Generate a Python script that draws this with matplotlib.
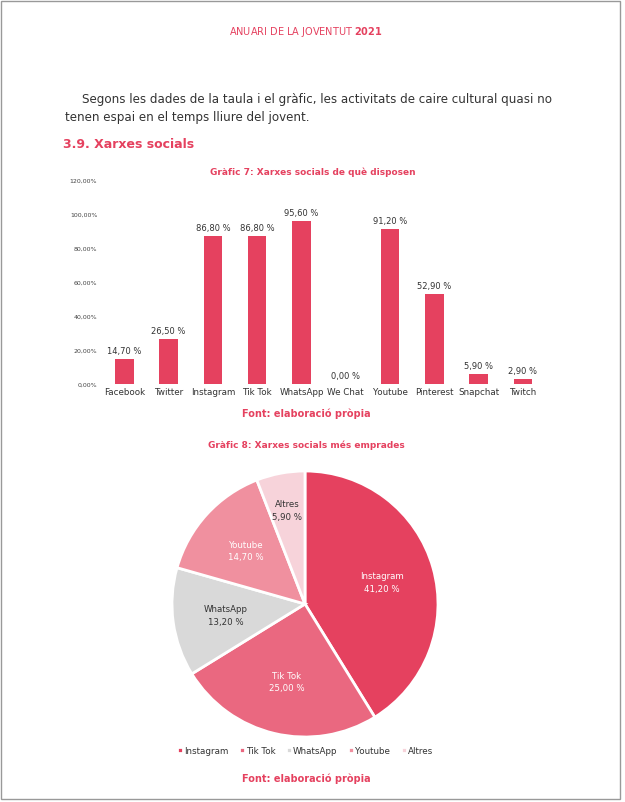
import matplotlib.pyplot as plt
import numpy as np

pink = '#E5415F'

networks = ['Facebook', 'Twitter', 'Instagram', 'Tik Tok', 'WhatsApp', 'We Chat',
            'Youtube', 'Pinterest', 'Snapchat', 'Twitch']
share = [14.7, 26.5, 86.8, 86.8, 95.6, 0.0, 91.2, 52.9, 5.9, 2.9]

pie_labels = ['Instagram', 'Tik Tok', 'WhatsApp', 'Youtube', 'Altres']
pie_values = [41.2, 25.0, 13.2, 14.7, 5.9]
pie_colors = ['#E5415F', '#EA6880', '#D9D9D9', '#F0909F', '#F7D3DA']
pie_text = ['white', 'white', '#333333', 'white', '#333333']

fig = plt.figure(figsize=(6.25, 8.03), dpi=100)

# page text
fig.text(0.49, 1 - 32/803, 'ANUARI DE LA JOVENTUT $\\bf{2021}$', color=pink,
         ha='center', va='center', fontsize=7)
fig.text(82/625, 1 - 100/803, 'Segons les dades de la taula i el gràfic, les activitats de caire cultural quasi no',
         ha='left', va='center', fontsize=8.6, color='#333333')
fig.text(65/625, 1 - 117/803, 'tenen espai en el temps lliure del jovent.',
         ha='left', va='center', fontsize=8.6, color='#333333')
fig.text(63/625, 1 - 145/803, '3.9. Xarxes socials', color=pink, fontweight='bold',
         ha='left', va='center', fontsize=9)

# bar chart
ax = fig.add_axes([0.16, 1 - 385/803, 0.712, (385 - 181)/803])
x = np.arange(len(networks))
bars = ax.bar(x, share, width=0.42, color=pink)
for xi, v in zip(x, share):
    ax.text(xi, v + 2.5, ('%.2f %%' % v).replace('.', ','), ha='center', va='bottom',
            fontsize=6, color='#333333')
ax.set_ylim(0, 120)
ax.set_xlim(-0.55, len(networks) - 0.5)
ax.set_yticks(np.arange(0, 121, 20))
ax.set_yticklabels([('%.2f%%' % t).replace('.', ',') for t in np.arange(0, 121, 20)],
                   fontsize=4.5, color='#444444')
ax.set_xticks(x)
ax.set_xticklabels(networks, fontsize=6.3, color='#333333')
ax.tick_params(length=0, pad=2)
for s in ax.spines.values():
    s.set_visible(False)
fig.text(0.50, 1 - 172/803, 'Gràfic 7: Xarxes socials de què disposen', color=pink,
         fontweight='bold', ha='center', va='center', fontsize=6.5)
fig.text(0.49, 1 - 414/803, 'Font: elaboració pròpia', color=pink,
         fontweight='bold', ha='center', va='center', fontsize=7)

# pie chart
ax2 = fig.add_axes([172/625, 1 - 738/803, 266/625, 266/803])
wedges, texts = ax2.pie(pie_values, colors=pie_colors, startangle=90, counterclock=False,
                        wedgeprops=dict(edgecolor='white', linewidth=2))
for w, lab, v, c in zip(wedges, pie_labels, pie_values, pie_text):
    ang = np.deg2rad((w.theta1 + w.theta2) / 2)
    r = 0.72 if v < 10 else 0.6
    ax2.text(r * np.cos(ang), r * np.sin(ang), lab + '\n' + ('%.2f %%' % v).replace('.', ','),
             ha='center', va='center', fontsize=6.2, color=c, linespacing=1.5)
ax2.set_xlim(-1, 1)
ax2.set_ylim(-1, 1)
ax2.set_aspect('equal')
ax2.legend(wedges, pie_labels, loc='upper center', bbox_to_anchor=(0.5, -0.005), ncol=5,
           frameon=False, fontsize=6.3, handlelength=0.7, handleheight=0.7,
           handletextpad=0.1, columnspacing=1.2, labelcolor='#333333')
fig.text(0.49, 1 - 445/803, 'Gràfic 8: Xarxes socials més emprades', color=pink,
         fontweight='bold', ha='center', va='center', fontsize=6.5)
fig.text(0.49, 1 - 779/803, 'Font: elaboració pròpia', color=pink,
         fontweight='bold', ha='center', va='center', fontsize=7)

# page border
fig.add_artist(plt.Rectangle((0.002, 0.004), 0.99, 0.994, transform=fig.transFigure,
                             fill=False, edgecolor='#999999', linewidth=1))

fig.savefig('out.png', dpi=100)
